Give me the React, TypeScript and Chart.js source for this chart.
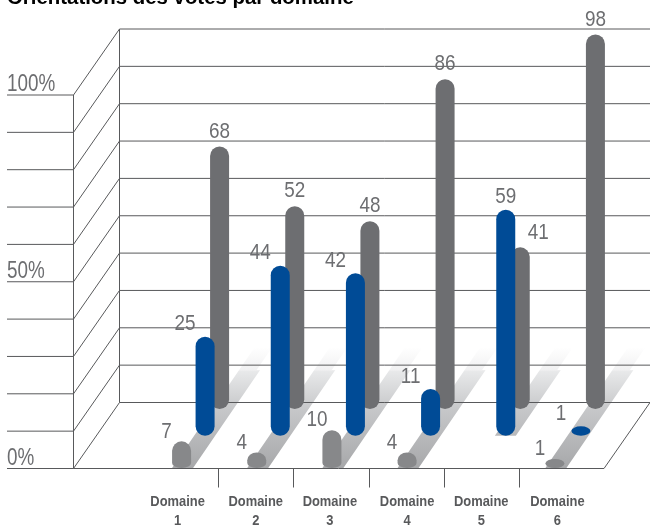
import React, { useEffect, useRef } from "react";
import { Chart, registerables } from "chart.js";

Chart.register(...registerables);

const categories = ["Domaine 1", "Domaine 2", "Domaine 3", "Domaine 4", "Domaine 5", "Domaine 6"];
const frontValues = [7, 4, 10, 4, 0, 1];
const middleValues = [25, 44, 42, 11, 59, 1];
const backValues = [68, 52, 48, 86, 41, 98];
const axisLabels: Record<number, string> = { 0: "0%", 50: "50%", 100: "100%" };
const titleText = "Orientations des votes par domaine";

const FRONT_GRAY = "#87888a";
const BLUE = "#004b96";
const BACK_GRAY = "#6d6e71";
const TEXT_GRAY = "#6d6e71";
const LINE = "#58595b";
const SANS = '"Liberation Sans", sans-serif';

// Depth of the room and the offset of each row of bars inside it.
const WALL_DX = 46;
const WALL_DY = -66;
const rows = [
  { dx: 0, dy: -1, capBelow: 0.5, bottomRadius: 5, labelDx: -15, labelDy: -10 },
  { dx: 23.5, dy: -38.5, capBelow: 5.7, bottomRadius: 9.5, labelDx: -20, labelDy: -12.5 },
  { dx: 38, dy: -68, capBelow: 8.5, bottomRadius: 9.5, labelDx: 0, labelDy: -15 },
];
const MIN_BAR_HEIGHT = 9;
const SHADOW_SLOPE = 0.684;
// The last front bar and its shadow sit slightly left of the category centre.
const frontNudge = [0, 0, 0, 0, 0, -2.5];
// Category captions are not quite centred on their categories.
const captionNudge = [-4, -1, -2, 0, -1, 0];

function capsule(ctx: CanvasRenderingContext2D, x: number, top: number, bottom: number, w: number, bottomRadius: number) {
  const rx = w / 2;
  const h = bottom - top;
  const ryTop = Math.min(rx, h / 2);
  const ryBottom = Math.min(bottomRadius, h / 2);
  ctx.beginPath();
  ctx.ellipse(x, top + ryTop, rx, ryTop, 0, Math.PI, 0);
  ctx.ellipse(x, bottom - ryBottom, rx, ryBottom, 0, 0, Math.PI);
  ctx.closePath();
  ctx.fill();
}

// Text squeezed horizontally, standing in for a condensed face.
function condensed(ctx: CanvasRenderingContext2D, text: string, x: number, y: number, squeeze: number, align: CanvasTextAlign) {
  ctx.save();
  ctx.translate(x, y);
  ctx.scale(squeeze, 1);
  ctx.textAlign = align;
  ctx.textBaseline = "middle";
  ctx.fillText(text, 0, 0);
  ctx.restore();
}

const room3d = {
  id: "room3d",
  beforeDatasetsDraw(chart: any) {
    const { ctx, scales } = chart;
    const x = scales.x;
    const y = scales.y;
    const y0 = y.getPixelForValue(0);
    const y100 = y.getPixelForValue(100);
    const wallX = 73.5;
    const backX = wallX + WALL_DX;
    const floorY = y0 - 0.5;
    const floorRight = 604;

    ctx.save();
    // Floor shadow running from each category towards the back wall.
    const gradient = ctx.createLinearGradient(0, floorY, 0, floorY - 121);
    gradient.addColorStop(0, "#a7a8aa");
    gradient.addColorStop(0.48, "#c6c7c9");
    gradient.addColorStop(0.8, "#e8e9ea");
    gradient.addColorStop(0.81, "#f1f1f2");
    gradient.addColorStop(1, "#ffffff");
    ctx.fillStyle = gradient;
    categories.forEach((_, i) => {
      const cx = x.getPixelForValue(i) + frontNudge[i];
      const startY = frontValues[i] > 0 ? floorY : y0 + rows[1].dy + rows[1].capBelow;
      const lift = floorY - startY;
      const run = (dy: number) => dy * SHADOW_SLOPE;
      const left = cx - 9.5;
      const right = cx + 11.5;
      ctx.beginPath();
      ctx.moveTo(left + run(lift), startY);
      ctx.lineTo(right + run(lift), startY);
      ctx.lineTo(right + run(98), floorY - 98);
      ctx.lineTo(right + run(98) - 3.5, floorY - 98);
      ctx.lineTo(right + run(121) - 3.5, floorY - 121);
      ctx.lineTo(left + run(121), floorY - 121);
      ctx.closePath();
      ctx.fill();
    });

    ctx.strokeStyle = LINE;
    ctx.lineWidth = 1;
    const segment = (x1: number, y1: number, x2: number, y2: number) => {
      ctx.beginPath();
      ctx.moveTo(x1, y1);
      ctx.lineTo(x2, y2);
      ctx.stroke();
    };
    // Gridlines carried across the front edge, side wall and back wall.
    y.ticks.forEach((tick: any) => {
      const py = y.getPixelForValue(tick.value);
      const farPy = py + WALL_DY;
      segment(7, py, wallX, py);
      segment(wallX, py, backX, farPy);
      segment(backX, farPy, chart.width, farPy);
    });
    segment(wallX, y100, wallX, y0);
    segment(backX, y100 + WALL_DY, backX, y0 + WALL_DY);
    // Floor outline.
    segment(wallX, y0, floorRight, y0);
    segment(floorRight, y0, floorRight + WALL_DX, y0 + WALL_DY);
    // Separators between the categories, under the axis.
    for (let i = 0; i < categories.length - 1; i++) {
      const px = Math.round((x.getPixelForValue(i) + x.getPixelForValue(i + 1)) / 2) - 0.5;
      segment(px, y0, px, y0 + 19);
    }

    // Axis labels, above their gridlines on the left and on two lines below the floor.
    ctx.fillStyle = TEXT_GRAY;
    ctx.font = `23px ${SANS}`;
    y.ticks.forEach((tick: any) => {
      const label = axisLabels[tick.value];
      if (label) condensed(ctx, label, 7, y.getPixelForValue(tick.value) - 10, 0.82, "left");
    });
    ctx.fillStyle = LINE;
    ctx.font = `bold 15px ${SANS}`;
    categories.forEach((name, i) => {
      const cx = x.getPixelForValue(i) + captionNudge[i];
      name.split(" ").forEach((part, line) => {
        condensed(ctx, part, cx, y0 + 33.5 + line * 19, 0.86, "center");
      });
    });
    ctx.restore();
  },
  beforeDatasetDraw(chart: any, args: any) {
    const { ctx } = chart;
    const row = rows[args.index];
    const meta = chart.getDatasetMeta(args.index);
    ctx.save();
    ctx.fillStyle = chart.data.datasets[args.index].backgroundColor;
    meta.data.forEach((bar: any, i: number) => {
      const value = chart.data.datasets[args.index].data[i];
      if (!value) return;
      const bottom = bar.base + row.dy + row.capBelow;
      const top = Math.min(bar.y + row.dy, bottom - MIN_BAR_HEIGHT);
      const nudge = args.index === 0 ? frontNudge[i] : 0;
      capsule(ctx, bar.x + row.dx + nudge, top, bottom, bar.width, row.bottomRadius);
    });
    ctx.restore();
    return false;
  },
  afterDatasetsDraw(chart: any) {
    const { ctx } = chart;
    ctx.save();
    ctx.font = `22.5px ${SANS}`;
    ctx.fillStyle = TEXT_GRAY;
    rows.forEach((row, d) => {
      const meta = chart.getDatasetMeta(d);
      const values = chart.data.datasets[d].data;
      meta.data.forEach((bar: any, i: number) => {
        const value = values[i];
        if (!value) return;
        const bottom = bar.base + row.dy + row.capBelow;
        const top = Math.min(bar.y + row.dy, bottom - MIN_BAR_HEIGHT);
        let dx = row.labelDx;
        // When the blue bar rises above the back one, its label is centred and the other moves aside.
        if (middleValues[i] > backValues[i]) dx = d === 1 ? 0 : d === 2 ? 18 : dx;
        const nudge = d === 0 ? frontNudge[i] : 0;
        condensed(ctx, String(value), bar.x + row.dx + dx + nudge, top + row.labelDy, 0.84, "center");
      });
    });
    ctx.restore();
  },
};

export default function App() {
  const ref = useRef<HTMLCanvasElement | null>(null);
  useEffect(() => {
    const chart = new Chart(ref.current as HTMLCanvasElement, {
      type: "bar",
      data: {
        labels: categories,
        datasets: [
          { label: "Front", data: frontValues, backgroundColor: FRONT_GRAY, barThickness: 19, grouped: false },
          { label: "Middle", data: middleValues, backgroundColor: BLUE, barThickness: 19, grouped: false },
          { label: "Back", data: backValues, backgroundColor: BACK_GRAY, barThickness: 19, grouped: false },
        ] as any,
      },
      options: {
        responsive: false,
        animation: false,
        layout: { padding: { left: 7, right: 55, top: 0, bottom: 0 } },
        plugins: {
          legend: { display: false },
          tooltip: { enabled: false },
          title: {
            display: true,
            text: titleText,
            align: "start",
            color: "#000000",
            font: { family: SANS, size: 20.4, weight: "bold", lineHeight: 1 },
            padding: { top: -12, bottom: 86.6 },
          },
        },
        scales: {
          x: {
            grid: { display: false, drawTicks: false },
            border: { display: false },
            ticks: { display: false },
            afterFit(scale: any) {
              scale.height = 56.5;
            },
          },
          y: {
            min: 0,
            max: 100,
            grid: { display: false, drawTicks: false },
            border: { display: false },
            ticks: { display: false, stepSize: 10, autoSkip: false },
            afterFit(scale: any) {
              scale.width = 137;
            },
          },
        },
      } as any,
      plugins: [room3d as any],
    });
    return () => chart.destroy();
  }, []);
  return <canvas ref={ref} width={650} height={525} style={{ position: "absolute", left: 0, top: 0, display: "block" }} />;
}
